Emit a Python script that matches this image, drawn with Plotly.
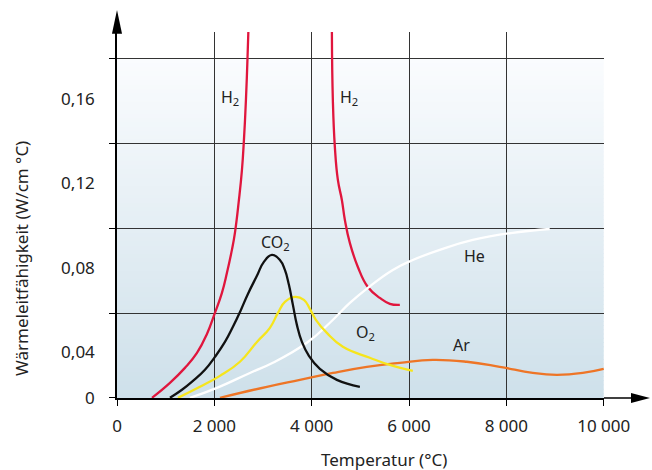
import plotly.graph_objects as go

# ---- data ----
h2_left_x = [719, 1088, 1396, 1643, 1848, 2012, 2156, 2259, 2361, 2423, 2505, 2567, 2608, 2649, 2680, 2700]
h2_left_y = [0.0182, 0.0253, 0.0324, 0.0395, 0.0485, 0.0585, 0.0680, 0.0775, 0.0884, 0.0965, 0.1121, 0.1263, 0.1406, 0.1595, 0.1785, 0.1927]

h2_right_x = [4415, 4435, 4476, 4538, 4620, 4682, 4784, 4949, 5154, 5400, 5606, 5811]
h2_right_y = [0.1927, 0.1595, 0.1373, 0.1216, 0.1121, 0.1026, 0.0917, 0.0803, 0.0708, 0.0656, 0.0628, 0.0623]

co2_x = [1088, 1335, 1561, 1807, 2012, 2218, 2382, 2546, 2690, 2875, 3018, 3183, 3347, 3450, 3532, 3614, 3696, 3799, 3943, 4168, 4517, 4990]
co2_y = [0.0182, 0.0220, 0.0262, 0.0315, 0.0376, 0.0447, 0.0519, 0.0599, 0.0675, 0.0761, 0.0827, 0.0860, 0.0836, 0.0789, 0.0718, 0.0623, 0.0528, 0.0447, 0.0381, 0.0319, 0.0267, 0.0234]

o2_x = [1253, 1704, 2115, 2526, 2875, 3142, 3306, 3450, 3655, 3840, 3963, 4086, 4312, 4641, 5195, 5606, 6078]
o2_y = [0.0182, 0.0234, 0.0286, 0.0353, 0.0447, 0.0514, 0.0585, 0.0637, 0.0661, 0.0647, 0.0604, 0.0552, 0.0490, 0.0424, 0.0372, 0.0338, 0.0310]

he_x = [1499, 2053, 2731, 3203, 3901, 4374, 4784, 5154, 5667, 6078, 6632, 7310, 8131, 8891]
he_y = [0.0182, 0.0229, 0.0300, 0.0348, 0.0443, 0.0538, 0.0632, 0.0704, 0.0789, 0.0836, 0.0884, 0.0931, 0.0965, 0.0983]

ar_x = [2115, 3080, 3758, 4435, 5133, 5811, 6489, 7187, 7864, 8542, 9035, 9569, 10000]
ar_y = [0.0182, 0.0234, 0.0267, 0.0300, 0.0329, 0.0348, 0.0362, 0.0353, 0.0329, 0.0300, 0.0291, 0.0300, 0.0319]

x_tickvals = [0, 2000, 4000, 6000, 8000, 10000]
x_ticktext = ["0", "2 000", "4 000", "6 000", "8 000", "10 000"]
y_tickvals = [0.0182, 0.04, 0.08, 0.12, 0.16]
y_ticktext = ["0", "0,04", "0,08", "0,12", "0,16"]

labels_text = ["H<sub>2</sub>", "H<sub>2</sub>", "CO<sub>2</sub>", "O<sub>2</sub>", "He", "Ar"]
labels_x = [2320, 4764, 3265, 5113, 7351, 7084]
labels_y = [0.1605, 0.1605, 0.0917, 0.049, 0.0855, 0.0433]

# ---- layout constants ----
YMIN, YMAX = 0.0181, 0.1918
GRID_TOP = 0.1790
FONT = "Noto Sans"
TXT = "#222222"

fig = go.Figure()

series = [
    (h2_left_x, h2_left_y, "#e0163d"),
    (h2_right_x, h2_right_y, "#e0163d"),
    (he_x, he_y, "#ffffff"),
    (ar_x, ar_y, "#ee7526"),
    (o2_x, o2_y, "#f6e51c"),
    (co2_x, co2_y, "#111111"),
]
for xs, ys, col in series:
    fig.add_trace(go.Scatter(x=xs, y=ys, mode="lines",
                             line=dict(color=col, width=2.3, shape="spline", smoothing=1.3),
                             hoverinfo="skip", showlegend=False, cliponaxis=True))

for t, x, y in zip(labels_text, labels_x, labels_y):
    fig.add_annotation(x=x, y=y, text=t, showarrow=False,
                       font=dict(family=FONT, size=16, color=TXT))

# gradient background via thin strips
def lerp(a, b, f):
    return int(round(a + (b - a) * f))
top_c = (250, 252, 254)
bot_c = (206, 224, 234)
n = 80
for i in range(n):
    f0 = i / n
    f1 = (i + 1) / n
    y0 = YMIN + (GRID_TOP - YMIN) * f0
    y1 = YMIN + (GRID_TOP - YMIN) * f1 + 0.0004
    fm = (f0 + f1) / 2
    c = tuple(lerp(bot_c[k], top_c[k], fm) for k in range(3))
    fig.add_shape(type="rect", xref="x", yref="y", x0=0, x1=10000, y0=y0, y1=min(y1, GRID_TOP),
                  fillcolor="rgb(%d,%d,%d)" % c, line=dict(width=0), layer="below")

# axis arrows
fig.add_shape(type="path", xref="paper", yref="paper",
              path="M 0 1.0601 L -0.0103 0.995 L 0.0103 0.995 Z",
              fillcolor="black", line=dict(width=0), layer="above")
fig.add_shape(type="line", xref="paper", yref="paper", x0=1, x1=1.06, y0=0, y1=0,
              line=dict(color="black", width=1.5), layer="above")
fig.add_shape(type="path", xref="paper", yref="paper",
              path="M 1.0945 0 L 1.0554 0.0137 L 1.0554 -0.0137 Z",
              fillcolor="black", line=dict(width=0), layer="above")

# axis titles
fig.add_annotation(xref="paper", yref="paper", x=-0.195, y=0.38, xanchor="center", yanchor="middle",
                   text="Wärmeleitfähigkeit (W/cm °C)",
                   textangle=-90, showarrow=False, font=dict(family=FONT, size=17, color=TXT))
fig.add_annotation(xref="paper", yref="paper", x=0.548, y=-0.168, xanchor="center", yanchor="middle",
                   text="Temperatur (°C)",
                   showarrow=False, font=dict(family=FONT, size=17, color=TXT))

fig.update_layout(
    width=652, height=470,
    margin=dict(l=117, r=48, t=32, b=72),
    paper_bgcolor="white", plot_bgcolor="white",
    font=dict(family=FONT, size=17, color=TXT),
    xaxis=dict(range=[0, 10006], tickvals=x_tickvals, ticktext=x_ticktext,
               showgrid=True, gridcolor="#333333", gridwidth=1.2, zeroline=False,
               showline=True, linecolor="black", linewidth=1.5,
               ticks="outside", ticklen=6, tickcolor="black", tickwidth=1.2, ticklabelstandoff=6,
               tickfont=dict(family=FONT, size=17, color=TXT), fixedrange=True),
    yaxis=dict(range=[YMIN, YMAX], tickvals=y_tickvals, ticktext=y_ticktext,
               showgrid=False, zeroline=False,
               showline=True, linecolor="black", linewidth=1.5,
               ticks="", ticklabelstandoff=17,
               minor=dict(tick0=0.0182, dtick=0.0402, showgrid=True, gridcolor="#333333",
                          gridwidth=1.2, ticks="outside", ticklen=6, tickcolor="black", tickwidth=1.2),
               tickfont=dict(family=FONT, size=17, color=TXT), fixedrange=True),
)

fig.write_html("out.html", config={"displayModeBar": False},
               post_script="document.body.style.margin='0';document.body.style.padding='0';")
